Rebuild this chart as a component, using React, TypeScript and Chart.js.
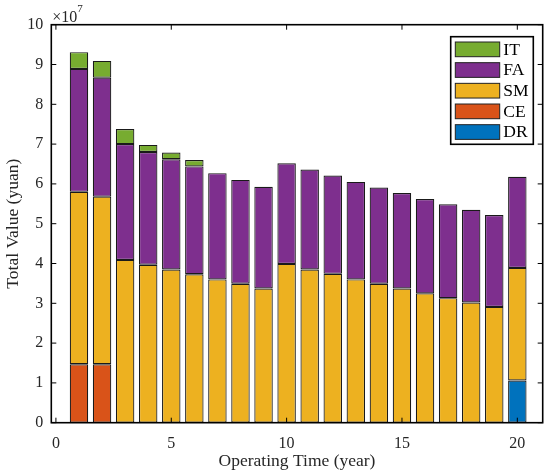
import { useEffect, useRef } from "react";
import { Chart, registerables } from "chart.js";

Chart.register(...registerables);

// values in units of 1e7 yuan, one segment per stack part
const years = [1, 2, 3, 4, 5, 6, 7, 8, 9, 10, 11, 12, 13, 14, 15, 16, 17, 18, 19, 20];
const drValues = [null, null, null, null, null, null, null, null, null, null, null, null, null, null, null, null, null, null, null, 1.06];
const ceValues = [1.47, 1.47, null, null, null, null, null, null, null, null, null, null, null, null, null, null, null, null, null, null];
const smValues = [4.33, 4.21, 4.09, 3.97, 3.85, 3.73, 3.6, 3.49, 3.37, 3.99, 3.85, 3.74, 3.6, 3.49, 3.37, 3.25, 3.13, 3.02, 2.91, 2.83];
const faValues = [3.09, 2.99, 2.91, 2.83, 2.77, 2.71, 2.67, 2.61, 2.56, 2.53, 2.51, 2.47, 2.45, 2.42, 2.4, 2.37, 2.36, 2.33, 2.31, 2.29];
const itValues = [0.42, 0.42, 0.38, 0.18, 0.17, 0.16, null, null, null, null, null, null, null, null, null, null, null, null, null, null];

const seriesNames = ["DR", "CE", "SM", "FA", "IT"];
const seriesValues = [drValues, ceValues, smValues, faValues, itValues];
const seriesColors = ["#0072BD", "#D95319", "#EDB120", "#7E2F8E", "#77AC30"];

const xTicks = [0, 5, 10, 15, 20];
const yTicks = [0, 1, 2, 3, 4, 5, 6, 7, 8, 9, 10];

const FONT = "'Liberation Serif', 'Times New Roman', serif";

// box, inside ticks, legend and the x10^7 note, MATLAB style
const framePlugin = {
  id: "frame",
  afterDraw(chart: any) {
    const { ctx, chartArea: ca, scales } = chart;
    const tl = 5;
    ctx.save();
    ctx.strokeStyle = "#000";
    ctx.lineWidth = 1;
    ctx.beginPath();
    xTicks.forEach((v) => {
      const px = scales.x.getPixelForValue(v);
      ctx.moveTo(px, ca.bottom);
      ctx.lineTo(px, ca.bottom - tl);
      ctx.moveTo(px, ca.top);
      ctx.lineTo(px, ca.top + tl);
    });
    yTicks.forEach((v) => {
      const py = scales.y.getPixelForValue(v);
      ctx.moveTo(ca.left, py);
      ctx.lineTo(ca.left + tl, py);
      ctx.moveTo(ca.right, py);
      ctx.lineTo(ca.right - tl, py);
    });
    ctx.stroke();
    ctx.lineWidth = 1.6;
    ctx.strokeRect(ca.left, ca.top, ca.right - ca.left, ca.bottom - ca.top);

    // exponent label
    ctx.fillStyle = "#262626";
    ctx.textBaseline = "alphabetic";
    ctx.textAlign = "left";
    ctx.font = `16px ${FONT}`;
    const base = "\u00d710";
    ctx.fillText(base, ca.left + 1, ca.top - 3);
    const w = ctx.measureText(base).width;
    ctx.font = `11px ${FONT}`;
    ctx.fillText("7", ca.left + 1 + w, ca.top - 13);

    // legend
    const bw = 82.6;
    const bh = 107.6;
    const bx = ca.right - 9.4 - bw;
    const by = ca.top + 12;
    ctx.fillStyle = "#fff";
    ctx.fillRect(bx, by, bw, bh);
    ctx.lineWidth = 1.6;
    ctx.strokeStyle = "#000";
    ctx.strokeRect(bx, by, bw, bh);
    ctx.font = `17.5px ${FONT}`;
    ctx.textBaseline = "middle";
    for (let i = 0; i < seriesNames.length; i++) {
      const k = seriesNames.length - 1 - i;
      const ry = by + 5.3 + i * 20.67;
      ctx.fillStyle = seriesColors[k];
      ctx.fillRect(bx + 4.6, ry, 44.4, 14.7);
      ctx.lineWidth = 1;
      ctx.strokeStyle = "#222";
      ctx.strokeRect(bx + 4.6, ry, 44.4, 14.7);
      ctx.fillStyle = "#000";
      ctx.fillText(seriesNames[k], bx + 52.6, ry + 8);
    }
    ctx.restore();
  },
};

const App = () => {
  const canvasRef = useRef<HTMLCanvasElement | null>(null);

  useEffect(() => {
    document.body.style.margin = "0";
    if (!canvasRef.current) return;
    const chart = new Chart(canvasRef.current, {
      type: "bar",
      data: {
        datasets: seriesNames.map((name, i) => ({
          label: name,
          data: years.map((yr, j) => ({ x: yr, y: seriesValues[i][j] })),
          backgroundColor: seriesColors[i],
          borderColor: "#1a1a1a",
          borderWidth: 1.2,
          borderSkipped: false,
          stack: "total",
          categoryPercentage: 1,
          barPercentage: 0.8,
        })),
      },
      options: {
        responsive: false,
        maintainAspectRatio: false,
        animation: false,
        layout: { padding: { left: 0, top: 24.7, right: 7.3, bottom: 0 } },
        plugins: {
          legend: { display: false },
          tooltip: { enabled: false },
        },
        scales: {
          x: {
            type: "linear",
            offset: false,
            min: -0.2,
            max: 21.1,
            grid: { display: false, offset: false },
            border: { display: false },
            afterBuildTicks: (s: any) => {
              s.ticks = xTicks.map((v) => ({ value: v }));
            },
            afterFit: (s: any) => {
              s.height = 52.3;
            },
            ticks: {
              padding: 3,
              color: "#262626",
              font: { family: FONT, size: 16 },
              maxRotation: 0,
            },
            title: {
              display: true,
              text: "Operating Time (year)",
              color: "#262626",
              font: { family: FONT, size: 17.5 },
              padding: { top: 0, bottom: 3 },
            },
          },
          y: {
            stacked: true,
            min: 0,
            max: 10,
            grid: { display: false },
            border: { display: false },
            afterBuildTicks: (s: any) => {
              s.ticks = yTicks.map((v) => ({ value: v }));
            },
            afterFit: (s: any) => {
              s.width = 51.3;
            },
            ticks: {
              padding: 0,
              color: "#262626",
              font: { family: FONT, size: 16 },
            },
            title: {
              display: true,
              text: "Total Value (yuan)",
              color: "#262626",
              font: { family: FONT, size: 17.5 },
              padding: { top: 3, bottom: 0 },
            },
          },
        },
      },
      plugins: [framePlugin],
    });

    return () => {
      chart.destroy();
    };
  }, []);

  return <canvas ref={canvasRef} width={550} height={475}></canvas>;
};

export default App;
